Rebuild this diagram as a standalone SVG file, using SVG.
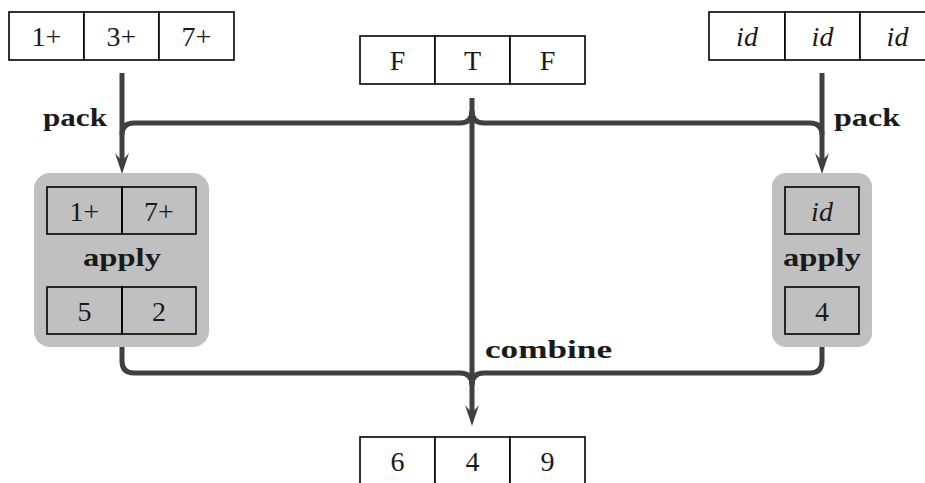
<svg xmlns="http://www.w3.org/2000/svg" xmlns:xlink="http://www.w3.org/1999/xlink" width="925" height="483" viewBox="0 0 925 483">
  <style>
    .cell { fill: #ffffff; stroke: #000000; stroke-width: 1.6; }
    .gcell { fill: none; stroke: #000000; stroke-width: 1.6; }
    .panel { fill: #c0c0c0; }
    .val { font-family: "Liberation Serif", "DejaVu Serif", serif; font-size: 28px; fill: #1a1a1a; text-anchor: middle; }
    .it { font-style: italic; }
    .lbl { font-family: "Liberation Serif", "DejaVu Serif", serif; font-size: 25px; font-weight: bold; fill: #1a1a1a; }
    .wire { fill: none; stroke: #404040; stroke-width: 5; stroke-linecap: butt; }
    .head { fill: #404040; }
  </style>
  <defs>
    <path id="head" class="head" d="M0,0 L-7,-21 L0,-13 L7,-21 Z"/>
  </defs>

  <!-- connectors -->
  <g id="connectors">
    <!-- pack (left) -->
    <path class="wire" d="M122,73 V162"/>
    <path class="wire" d="M460,123 H134 Q122,123 122,135"/>
    <use xlink:href="#head" x="122" y="174"/>
    <!-- pack (right) -->
    <path class="wire" d="M822,73 V162"/>
    <path class="wire" d="M484,123 H810 Q822,123 822,135"/>
    <use xlink:href="#head" x="822" y="174"/>
    <!-- mask branch joining the brace -->
    <path class="wire" d="M460,123 Q472,123 472,111"/>
    <path class="wire" d="M484,123 Q472,123 472,111"/>
    <path class="wire" d="M472,98 V414"/>
    <use xlink:href="#head" x="472" y="426"/>
    <!-- combine -->
    <path class="wire" d="M122,347 V361 Q122,373 134,373 H460 Q472,373 472,385"/>
    <path class="wire" d="M822,347 V361 Q822,373 810,373 H484 Q472,373 472,385"/>
  </g>

  <!-- functions array -->
  <g id="funcs">
    <rect class="cell" x="9" y="12" width="75" height="48"/>
    <rect class="cell" x="84" y="12" width="75" height="48"/>
    <rect class="cell" x="159" y="12" width="75" height="48"/>
    <text class="val" x="46.5" y="46">1+</text>
    <text class="val" x="121.5" y="46">3+</text>
    <text class="val" x="196.5" y="46">7+</text>
  </g>

  <!-- mask array -->
  <g id="mask">
    <rect class="cell" x="360" y="36" width="75" height="48"/>
    <rect class="cell" x="435" y="36" width="75" height="48"/>
    <rect class="cell" x="510" y="36" width="75" height="48"/>
    <text class="val" x="397.5" y="70">F</text>
    <text class="val" x="472.5" y="70">T</text>
    <text class="val" x="547.5" y="70">F</text>
  </g>

  <!-- identity array -->
  <g id="ids">
    <rect class="cell" x="709" y="12" width="76" height="48"/>
    <rect class="cell" x="785" y="12" width="75" height="48"/>
    <rect class="cell" x="860" y="12" width="75" height="48"/>
    <text class="val it" x="747" y="46">id</text>
    <text class="val it" x="822.5" y="46">id</text>
    <text class="val it" x="897.5" y="46">id</text>
  </g>

  <!-- result array -->
  <g id="result">
    <rect class="cell" x="360" y="437" width="75" height="48"/>
    <rect class="cell" x="435" y="437" width="75" height="48"/>
    <rect class="cell" x="510" y="437" width="75" height="48"/>
    <text class="val" x="397.5" y="471">6</text>
    <text class="val" x="472.5" y="471">4</text>
    <text class="val" x="547.5" y="471">9</text>
  </g>

  <!-- labels -->
  <g id="labels">
    <text class="lbl" x="43" y="126" textLength="64" lengthAdjust="spacingAndGlyphs">pack</text>
    <text class="lbl" x="834" y="126" textLength="66" lengthAdjust="spacingAndGlyphs">pack</text>
    <text class="lbl" x="485" y="358" textLength="127" lengthAdjust="spacingAndGlyphs">combine</text>
  </g>

  <!-- left apply block -->
  <g id="apply-left">
    <rect class="panel" x="34" y="173" width="175" height="174" rx="16" ry="16"/>
    <rect class="gcell" x="47" y="187" width="75" height="47"/>
    <rect class="gcell" x="122" y="187" width="74" height="47"/>
    <text class="val" x="84.5" y="221">1+</text>
    <text class="val" x="159" y="221">7+</text>
    <text class="lbl" x="83" y="266" textLength="78" lengthAdjust="spacingAndGlyphs">apply</text>
    <rect class="gcell" x="47" y="287" width="75" height="47"/>
    <rect class="gcell" x="122" y="287" width="74" height="47"/>
    <text class="val" x="84.5" y="321">5</text>
    <text class="val" x="159" y="321">2</text>
  </g>

  <!-- right apply block -->
  <g id="apply-right">
    <rect class="panel" x="772" y="173" width="100" height="174" rx="14" ry="14"/>
    <rect class="gcell" x="785" y="187" width="74" height="47"/>
    <text class="val it" x="822" y="221">id</text>
    <text class="lbl" x="783" y="266" textLength="78" lengthAdjust="spacingAndGlyphs">apply</text>
    <rect class="gcell" x="785" y="287" width="74" height="47"/>
    <text class="val" x="822" y="321">4</text>
  </g>
</svg>
